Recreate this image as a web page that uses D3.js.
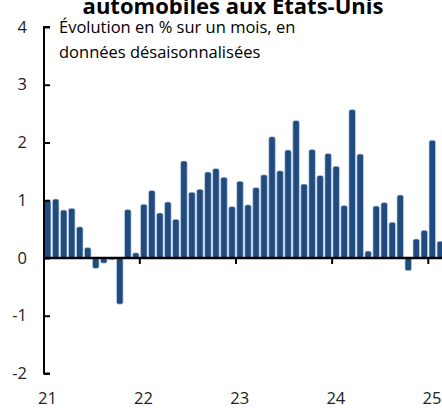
<!DOCTYPE html>
<html>
<head>
<meta charset="utf-8">
<script src="https://cdn.jsdelivr.net/npm/d3@7"></script>
<style>
  body { margin: 0; background: #fff; }
  svg { display: block; font-family: "Open Sans", sans-serif; }
</style>
</head>
<body>
<div id="container"></div>
<script>
// monthly change, Jan 2021 -> Feb 2025
const months = d3.range(50).map(i => `${2021 + Math.floor(i / 12)}-${(i % 12) + 1}`);
const values = [
  1.00, 1.02, 0.83, 0.86, 0.54, 0.18, -0.18, -0.09, -0.03, -0.80, 0.84, 0.09,
  0.93, 1.17, 0.78, 0.97, 0.67, 1.68, 1.14, 1.19, 1.49, 1.55, 1.40, 0.89,
  1.33, 0.92, 1.22, 1.44, 2.10, 1.51, 1.87, 2.38, 1.28, 1.88, 1.43, 1.81,
  1.59, 0.91, 2.57, 1.80, 0.12, 0.90, 0.96, 0.62, 1.09, -0.22, 0.33, 0.48,
  2.04, 0.29
];
const yearTicks = ["21", "22", "23", "24", "25"];
const yTicks = [-2, -1, 0, 1, 2, 3, 4];

const W = 442, H = 408;
const svg = d3.select("#container").append("svg")
  .attr("width", W).attr("height", H);

const x = d3.scaleBand()
  .domain(months)
  .range([44, 44 + months.length * 8])
  .paddingInner(0.18)
  .paddingOuter(0.05);

const y = d3.scaleLinear().domain([-2, 4]).range([373.5, 27]);

// title (cut at top) and subtitle
svg.append("text")
  .attr("x", 233).attr("y", 14)
  .attr("text-anchor", "middle")
  .attr("font-size", 22).attr("font-weight", "bold")
  .text("automobiles aux États-Unis");

svg.append("text")
  .attr("x", 59).attr("y", 33)
  .attr("font-size", 16.5)
  .text("Évolution en % sur un mois, en");
svg.append("text")
  .attr("x", 59).attr("y", 58)
  .attr("font-size", 16.5)
  .text("données désaisonnalisées");

// bars
svg.selectAll("rect.bar")
  .data(values)
  .enter()
  .append("rect")
  .attr("class", "bar")
  .attr("x", (d, i) => x(months[i]))
  .attr("width", x.bandwidth())
  .attr("y", d => y(Math.max(0, d)))
  .attr("height", d => Math.abs(y(d) - y(0)))
  .attr("rx", 2)
  .attr("fill", "#1f4b7e")
  .attr("stroke", "#c9d7ea")
  .attr("stroke-width", 0.7);

// y axis
const yAxis = svg.append("g")
  .attr("transform", "translate(44,0)")
  .call(d3.axisRight(y).tickValues(yTicks).tickSize(6).tickFormat(""));
yAxis.select(".domain").attr("stroke-width", 2).attr("d", `M6,${y(4)}H0V${y(-2)}H6`);
yAxis.selectAll(".tick line").attr("stroke-width", 2);

svg.selectAll("text.ylab")
  .data(yTicks)
  .enter()
  .append("text")
  .attr("class", "ylab")
  .attr("x", 27).attr("y", d => y(d) + 5.5)
  .attr("text-anchor", "end")
  .attr("font-size", 16.5)
  .attr("fill", "#222")
  .text(d => d);

// x axis at zero
const yearIdx = yearTicks.map((t, k) => months[k * 12]);
svg.append("line")
  .attr("x1", 44).attr("x2", W)
  .attr("y1", y(0)).attr("y2", y(0))
  .attr("stroke", "#000").attr("stroke-width", 2.5);
svg.selectAll("line.xtick")
  .data(yearIdx.slice(1))
  .enter()
  .append("line")
  .attr("class", "xtick")
  .attr("x1", d => x(d) - x.step() * x.paddingInner() / 2)
  .attr("x2", d => x(d) - x.step() * x.paddingInner() / 2)
  .attr("y1", y(0)).attr("y2", y(0) + 6)
  .attr("stroke", "#000").attr("stroke-width", 2);

svg.selectAll("text.xlab")
  .data(yearTicks)
  .enter()
  .append("text")
  .attr("class", "xlab")
  .attr("x", (d, k) => x(yearIdx[k]) + 3)
  .attr("y", 404)
  .attr("text-anchor", "middle")
  .attr("font-size", 16.5)
  .attr("fill", "#222")
  .text(d => d);
</script>
</body>
</html>
